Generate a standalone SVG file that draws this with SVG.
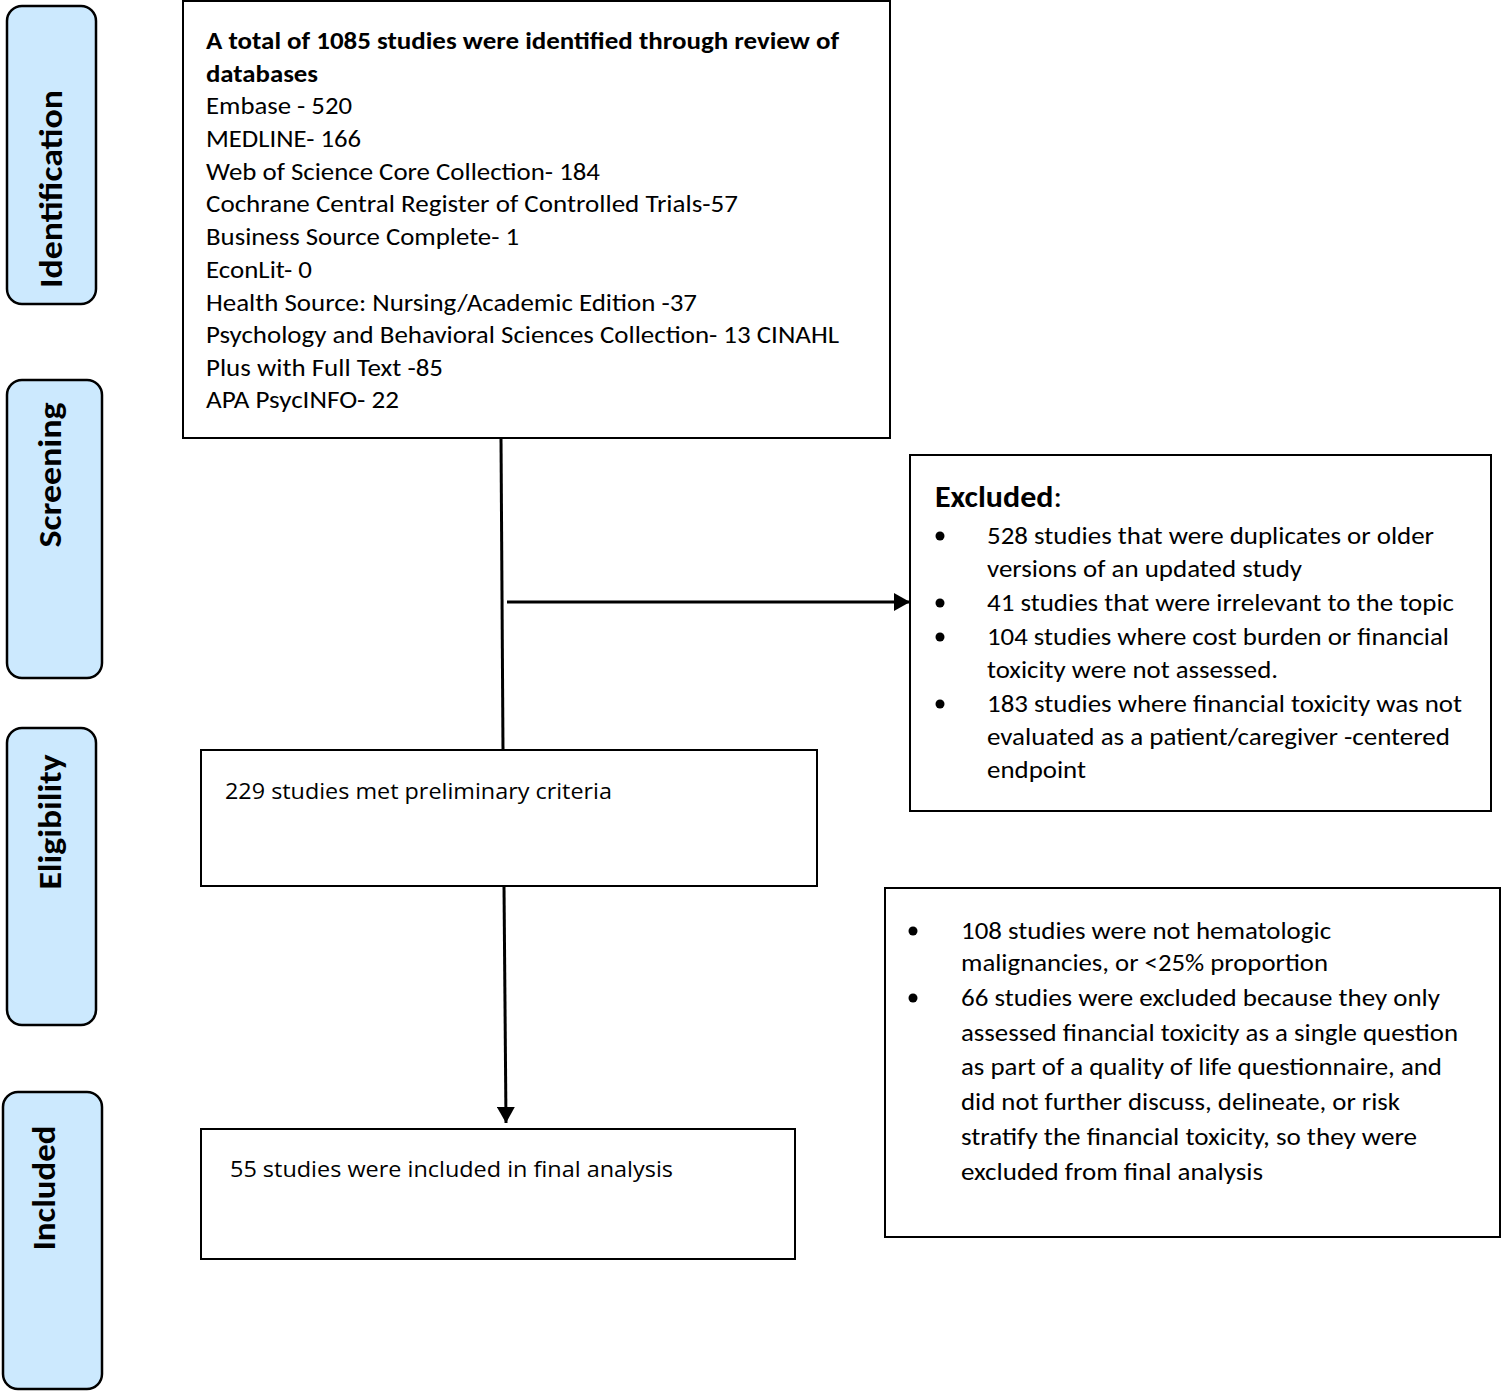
<svg xmlns="http://www.w3.org/2000/svg" width="1502" height="1392" viewBox="0 0 1502 1392">
<style>
.t{font-family:Carlito,Lato,"Liberation Sans",sans-serif;font-size:25px;fill:#000}
.b{font-weight:bold}
.o{font-family:"Open Sans","Liberation Sans",sans-serif;font-size:22px;fill:#000}
.side{fill:#cce9fe;stroke:#000;stroke-width:2.5}
.sl{font-family:Carlito,Lato,"Liberation Sans",sans-serif;font-size:32px;font-weight:bold;fill:#000}
.box{fill:#fff;stroke:#000;stroke-width:2}
.conn{stroke:#000;stroke-width:3;fill:none}
.bul{fill:#000}
</style>
<defs>
<marker id="ah" viewBox="0 0 16 18" refX="16" refY="9" markerWidth="16" markerHeight="18" markerUnits="userSpaceOnUse" orient="auto">
<path d="M0,0 L16,9 L0,18 z" fill="#000"/>
</marker>
</defs>
<rect width="1502" height="1392" fill="#fff"/>

<g id="stage-identification">
<rect class="side" x="7" y="6" width="89" height="298" rx="15"/>
<text class="sl" transform="translate(62,189) rotate(-90)" text-anchor="middle" textLength="198" lengthAdjust="spacingAndGlyphs">Identification</text>
</g>
<g id="stage-screening">
<rect class="side" x="7" y="380" width="95" height="298" rx="15"/>
<text class="sl" transform="translate(61,475) rotate(-90)" text-anchor="middle" textLength="145" lengthAdjust="spacingAndGlyphs">Screening</text>
</g>
<g id="stage-eligibility">
<rect class="side" x="7" y="728" width="89" height="297" rx="15"/>
<text class="sl" transform="translate(61,822) rotate(-90)" text-anchor="middle" textLength="135" lengthAdjust="spacingAndGlyphs">Eligibility</text>
</g>
<g id="stage-included">
<rect class="side" x="3" y="1092" width="99" height="297" rx="15"/>
<text class="sl" transform="translate(55,1188) rotate(-90)" text-anchor="middle" textLength="125" lengthAdjust="spacingAndGlyphs">Included</text>
</g>

<g id="connectors">
<path class="conn" d="M501,438 L503,750"/>
<path class="conn" d="M507,602 L910,602" marker-end="url(#ah)"/>
<path class="conn" d="M504,886 L506,1123" marker-end="url(#ah)"/>
</g>

<g id="identified">
<rect class="box" x="183" y="1" width="707" height="437"/>
<text class="t b" x="206" y="49" textLength="633" lengthAdjust="spacingAndGlyphs">A total of 1085 studies were identified through review of</text>
<text class="t b" x="206" y="82" textLength="112" lengthAdjust="spacingAndGlyphs">databases</text>
<text class="t" x="206" y="114" textLength="146" lengthAdjust="spacingAndGlyphs">Embase - 520</text>
<text class="t" x="206" y="147" textLength="155" lengthAdjust="spacingAndGlyphs">MEDLINE- 166</text>
<text class="t" x="206" y="180" textLength="394" lengthAdjust="spacingAndGlyphs">Web of Science Core Collection- 184</text>
<text class="t" x="206" y="212" textLength="532" lengthAdjust="spacingAndGlyphs">Cochrane Central Register of Controlled Trials-57</text>
<text class="t" x="206" y="245" textLength="313" lengthAdjust="spacingAndGlyphs">Business Source Complete- 1</text>
<text class="t" x="206" y="278" textLength="106" lengthAdjust="spacingAndGlyphs">EconLit- 0</text>
<text class="t" x="206" y="311" textLength="491" lengthAdjust="spacingAndGlyphs">Health Source: Nursing/Academic Edition -37</text>
<text class="t" x="206" y="343" textLength="633" lengthAdjust="spacingAndGlyphs">Psychology and Behavioral Sciences Collection- 13 CINAHL</text>
<text class="t" x="206" y="376" textLength="237" lengthAdjust="spacingAndGlyphs">Plus with Full Text -85</text>
<text class="t" x="206" y="408" textLength="193" lengthAdjust="spacingAndGlyphs">APA PsycINFO- 22</text>
</g>

<g id="excluded">
<rect class="box" x="910" y="455" width="581" height="356"/>
<text class="t" x="935" y="507" style="font-size:30px" textLength="127" lengthAdjust="spacingAndGlyphs"><tspan class="b">Excluded</tspan>:</text>
<circle class="bul" cx="940" cy="536" r="4.5"/>
<text class="t" x="987" y="544" textLength="447" lengthAdjust="spacingAndGlyphs">528 studies that were duplicates or older</text>
<text class="t" x="987" y="577" textLength="315" lengthAdjust="spacingAndGlyphs">versions of an updated study</text>
<circle class="bul" cx="940" cy="603" r="4.5"/>
<text class="t" x="987" y="611" textLength="467" lengthAdjust="spacingAndGlyphs">41 studies that were irrelevant to the topic</text>
<circle class="bul" cx="940" cy="637" r="4.5"/>
<text class="t" x="987" y="645" textLength="462" lengthAdjust="spacingAndGlyphs">104 studies where cost burden or financial</text>
<text class="t" x="987" y="678" textLength="291" lengthAdjust="spacingAndGlyphs">toxicity were not assessed.</text>
<circle class="bul" cx="940" cy="704" r="4.5"/>
<text class="t" x="987" y="712" textLength="475" lengthAdjust="spacingAndGlyphs">183 studies where financial toxicity was not</text>
<text class="t" x="987" y="745" textLength="463" lengthAdjust="spacingAndGlyphs">evaluated as a patient/caregiver -centered</text>
<text class="t" x="987" y="778" textLength="99" lengthAdjust="spacingAndGlyphs">endpoint</text>
</g>

<g id="preliminary">
<rect class="box" x="201" y="750" width="616" height="136"/>
<text class="o" x="225" y="799" textLength="387" lengthAdjust="spacingAndGlyphs">229 studies met preliminary criteria</text>
</g>

<g id="excluded-2">
<rect class="box" x="885" y="888" width="615" height="349"/>
<circle class="bul" cx="913" cy="931" r="4.5"/>
<text class="t" x="961" y="939" textLength="370" lengthAdjust="spacingAndGlyphs">108 studies were not hematologic</text>
<text class="t" x="961" y="971" textLength="367" lengthAdjust="spacingAndGlyphs">malignancies, or &lt;25% proportion</text>
<circle class="bul" cx="913" cy="998" r="4.5"/>
<text class="t" x="961" y="1006" textLength="479" lengthAdjust="spacingAndGlyphs">66 studies were excluded because they only</text>
<text class="t" x="961" y="1041" textLength="497" lengthAdjust="spacingAndGlyphs">assessed financial toxicity as a single question</text>
<text class="t" x="961" y="1075" textLength="481" lengthAdjust="spacingAndGlyphs">as part of a quality of life questionnaire, and</text>
<text class="t" x="961" y="1110" textLength="439" lengthAdjust="spacingAndGlyphs">did not further discuss, delineate, or risk</text>
<text class="t" x="961" y="1145" textLength="456" lengthAdjust="spacingAndGlyphs">stratify the financial toxicity, so they were</text>
<text class="t" x="961" y="1180" textLength="302" lengthAdjust="spacingAndGlyphs">excluded from final analysis</text>
</g>

<g id="included">
<rect class="box" x="201" y="1129" width="594" height="130"/>
<text class="o" x="230" y="1177" textLength="443" lengthAdjust="spacingAndGlyphs">55 studies were included in final analysis</text>
</g>
</svg>
